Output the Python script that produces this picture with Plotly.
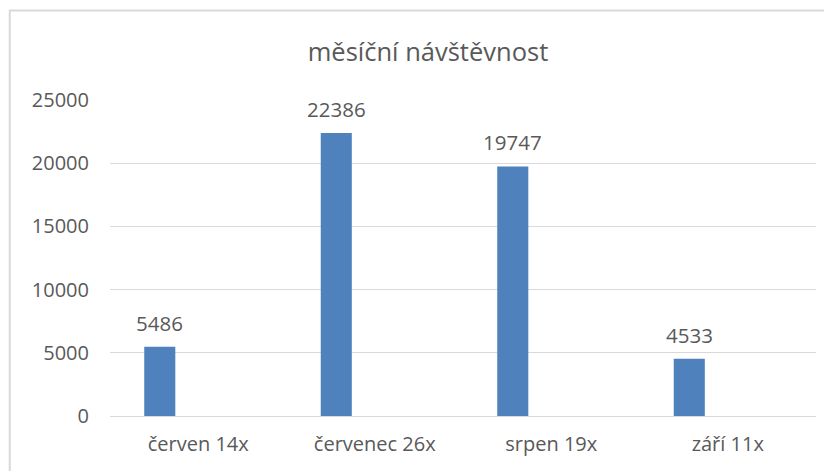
import plotly.graph_objects as go

categories = ["červen 14x", "červenec 26x", "srpen 19x", "září 11x"]
visits = [5486, 22386, 19747, 4533]
y_ticks = [0, 5000, 10000, 15000, 20000, 25000]
title_text = "měsíční návštěvnost"

FONT = "Open Sans, Calibri, Carlito, sans-serif"
TXT = "#595959"
GRID = "#d9d9d9"
BAR = "#4F81BD"

BAR_W = 0.176
BAR_OFF = -0.306

fig = go.Figure()
fig.add_trace(go.Bar(
    x=categories, y=visits,
    marker=dict(color=BAR, line=dict(width=0)),
    width=[BAR_W] * len(categories),
    offset=[BAR_OFF] * len(categories),
    hoverinfo="x+y",
))

for c, v in zip(categories, visits):
    fig.add_annotation(
        x=c, y=v, xref="x", yref="y",
        text=str(v), showarrow=False,
        xshift=-38.5, yshift=24, yanchor="middle",
        font=dict(family=FONT, size=20.5, color=TXT),
    )

fig.update_layout(
    width=824, height=463,
    margin=dict(l=102, r=16, t=92, b=55),
    paper_bgcolor="white", plot_bgcolor="white",
    showlegend=False,
    font=dict(family=FONT, size=20, color=TXT),
    title=dict(text=title_text, x=0.5097, xanchor="center", y=0.905, yanchor="middle",
               font=dict(family=FONT, size=25.5, color=TXT)),
    xaxis=dict(showgrid=False, showline=False, zeroline=False, ticks="",
               ticklabelstandoff=14, tickfont=dict(size=20, color=TXT)),
    yaxis=dict(range=[0, 25000], tickvals=y_ticks, tickformat="d",
               showgrid=True, gridcolor=GRID,
               gridwidth=1, zeroline=True, zerolinecolor=GRID, zerolinewidth=1,
               showline=False, ticks="", ticklabelstandoff=20,
               tickfont=dict(size=20, color=TXT)),
    shapes=[dict(type="rect", xref="paper", yref="paper",
                 x0=-0.142, x1=1.2, y0=-0.5, y1=1.283,
                 line=dict(color=GRID, width=2), fillcolor="rgba(0,0,0,0)", layer="below")],
)

fig.write_html("out.html")
